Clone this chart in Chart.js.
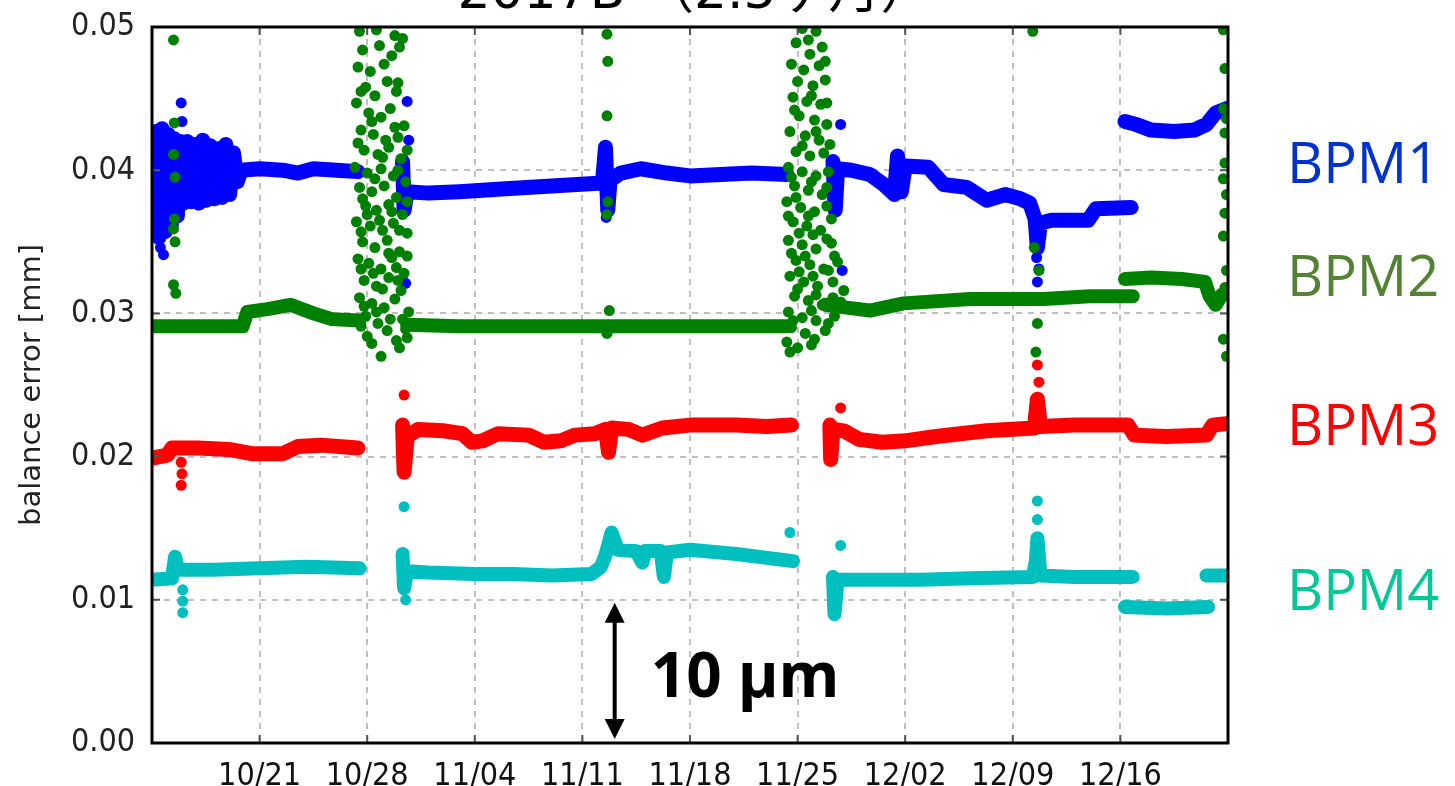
<!DOCTYPE html>
<html>
<head>
<meta charset="utf-8">
<script src="https://cdn.jsdelivr.net/npm/chart.js@4.4.1/dist/chart.umd.min.js"></script>
<style>
  html, body { margin: 0; padding: 0; background: #fff; }
  #wrap { width: 1455px; height: 786px; }
</style>
</head>
<body>
<div id="wrap"><canvas id="c" width="1455" height="786"></canvas></div>
<script>
// x = days since 10/14, y = balance error in mm; null breaks a band
const tickDays = [7, 14, 21, 28, 35, 42, 49, 56, 63];
const tickLabels = ['10/21', '10/28', '11/04', '11/11', '11/18', '11/25', '12/02', '12/09', '12/16'];

const bpm1Band = [
  [0.05, 0.0362], [0.25, 0.0427], [0.45, 0.0353], [0.65, 0.0429], [0.85, 0.0357], [1.05, 0.0425],
  [1.25, 0.0361], [1.45, 0.0422], [1.65, 0.0368], [1.85, 0.0420], [2.05, 0.0377], [2.3, 0.0420],
  [2.55, 0.0378], [2.8, 0.0418], [3.05, 0.0377], [3.3, 0.0421], [3.55, 0.0379], [3.8, 0.0417],
  [4.05, 0.0380], [4.3, 0.0415], [4.55, 0.0381], [4.8, 0.0418], [5.05, 0.0383], [5.3, 0.0412],
  [5.55, 0.0392], [5.8, 0.0400], [7, 0.0401], [8.5, 0.0400], [9.5, 0.0398], [10.5, 0.0401],
  [12, 0.0400], [13.4, 0.0399],
  null,
  [16.3, 0.0406], [16.4, 0.0372], [16.6, 0.0385], [18, 0.0384], [20, 0.0385], [23, 0.0387],
  [26, 0.0389], [29.3, 0.0391], [29.5, 0.0416], [29.65, 0.0372], [29.8, 0.0393], [30.5, 0.0398],
  [31.8, 0.0401], [33.5, 0.0398], [35, 0.0396], [37, 0.0397], [39, 0.0398], [41.3, 0.0397],
  null,
  [44.3, 0.0406], [44.45, 0.0372], [44.6, 0.0401], [45.5, 0.0400], [46.7, 0.0397], [47.6, 0.0390],
  [48.3, 0.0383], [48.5, 0.0410], [48.75, 0.0385], [49, 0.0403], [50.5, 0.0402], [51.5, 0.0390],
  [53, 0.0388], [54.3, 0.0379], [55.5, 0.0383], [56.5, 0.0380], [57.1, 0.0377], [57.45, 0.0366],
  [57.6, 0.0346], [57.8, 0.0363], [58.5, 0.0365], [60.9, 0.0365], [61.4, 0.0373], [63.7, 0.0374],
  null,
  [63.3, 0.0434], [64, 0.0432], [65, 0.0428], [66.5, 0.0427], [67.8, 0.0428], [68.6, 0.0432],
  [69.2, 0.0440], [69.9, 0.0443]
];
const bpm1Dots = [
  [1.9, 0.0447], [1.95, 0.0434], [0.75, 0.0341], [0.55, 0.0346], [16.6, 0.0448], [16.7, 0.0421],
  [16.5, 0.0321], [29.55, 0.0367], [44.8, 0.0432], [44.9, 0.0330], [57.7, 0.0331], [57.6, 0.0322],
  [57.55, 0.0339]
];

const bpm2Band = [
  [0, 0.0291], [5.9, 0.0291], [6.2, 0.0301], [7.5, 0.0303], [9, 0.0306], [10.5, 0.0300],
  [11.7, 0.0296], [13.5, 0.0295],
  null,
  [16.6, 0.0292], [20, 0.0291], [25, 0.0291], [29, 0.0291], [33, 0.0291], [37, 0.0291], [41.3, 0.0291],
  null,
  [43.8, 0.0306], [45.2, 0.0304], [46.7, 0.0302], [48.9, 0.0307], [53.2, 0.0310], [58, 0.0310],
  [61, 0.0312], [63.8, 0.0312],
  null,
  [63.3, 0.0324], [65, 0.0325], [67, 0.0324], [68.5, 0.0322], [68.8, 0.0312], [69.2, 0.0306], [69.6, 0.0313]
];
const bpm2Dots = [
  [1.4, 0.0491], [1.45, 0.0433], [1.4, 0.0411], [1.5, 0.0395], [1.45, 0.0366], [1.4, 0.0359],
  [1.5, 0.0350], [1.4, 0.0320], [1.55, 0.0314],
  [29.6, 0.0495], [29.65, 0.0476], [29.6, 0.0438], [29.65, 0.0378], [29.6, 0.0369], [29.75, 0.0302], [29.6, 0.0286],
  [57.3, 0.0497], [57.4, 0.0346], [57.7, 0.0330], [57.6, 0.0293], [57.5, 0.0273],
  [69.7, 0.0498], [69.8, 0.0471], [69.7, 0.0443], [69.9, 0.0436], [69.8, 0.0426], [69.8, 0.0405],
  [69.7, 0.0394], [69.9, 0.0383], [69.8, 0.0370], [69.7, 0.0354], [69.9, 0.0330], [69.8, 0.0318],
  [69.7, 0.0282], [69.9, 0.0270]
];
// scattered BPM2 readings around 10/28-10/31
const bpm2Burst1 = [
  [13.5, 0.0497], [14.6, 0.0498], [15.8, 0.0494], [16.3, 0.0492], [13.7, 0.0484], [14.8, 0.0487],
  [15.6, 0.0480], [16.1, 0.0486], [13.4, 0.0472], [14.2, 0.0469], [15.1, 0.0474], [16.0, 0.0461],
  [13.9, 0.0458], [14.5, 0.0452], [15.9, 0.0455], [13.3, 0.0447], [14.1, 0.0440], [14.9, 0.0437],
  [15.5, 0.0443], [16.4, 0.0431], [13.6, 0.0428], [14.4, 0.0425], [15.2, 0.0421], [16.0, 0.0423],
  [13.8, 0.0414], [14.7, 0.0411], [15.4, 0.0416], [16.2, 0.0408], [13.2, 0.0402], [14.0, 0.0398],
  [14.9, 0.0401], [15.7, 0.0396], [16.5, 0.0392], [13.5, 0.0388], [14.3, 0.0385], [15.1, 0.0389],
  [15.9, 0.0381], [13.9, 0.0375], [14.6, 0.0372], [15.4, 0.0376], [16.3, 0.0369], [13.3, 0.0364],
  [14.2, 0.0361], [15.0, 0.0358], [15.7, 0.0363], [16.6, 0.0356], [13.7, 0.0350], [14.5, 0.0346],
  [15.3, 0.0351], [16.1, 0.0343], [13.4, 0.0338], [14.1, 0.0335], [14.9, 0.0331], [15.6, 0.0339],
  [16.4, 0.0328], [13.8, 0.0323], [14.6, 0.0319], [15.4, 0.0325], [16.2, 0.0316], [13.5, 0.0311],
  [14.3, 0.0307], [15.1, 0.0304], [15.8, 0.0310], [16.7, 0.0301], [13.9, 0.0298], [14.7, 0.0293],
  [15.5, 0.0296], [16.5, 0.0289], [14.0, 0.0284], [15.9, 0.0281], [14.9, 0.0270], [16.1, 0.0276],
  [13.6, 0.0455], [15.3, 0.0462], [14.3, 0.0434], [15.8, 0.0430], [13.4, 0.0419], [15.0, 0.0409],
  [16.6, 0.0414], [14.5, 0.0394], [16.0, 0.0400], [13.7, 0.0380], [15.6, 0.0371], [16.6, 0.0378],
  [14.0, 0.0369], [14.8, 0.0365], [16.1, 0.0358], [13.6, 0.0357], [15.4, 0.0342], [16.6, 0.0340],
  [14.4, 0.0328], [15.9, 0.0332], [13.6, 0.0331], [15.0, 0.0317], [16.0, 0.0323], [13.8, 0.0305],
  [14.6, 0.0301], [15.3, 0.0288], [16.3, 0.0296], [13.6, 0.0291], [14.3, 0.0279], [16.6, 0.0283]
];
// scattered BPM2 readings around 11/25-11/28
const bpm2Burst2 = [
  [42.3, 0.0499], [43.2, 0.0497], [41.9, 0.0489], [43.6, 0.0486], [42.8, 0.0481], [41.6, 0.0474],
  [42.4, 0.0470], [43.4, 0.0473], [42.0, 0.0462], [43.0, 0.0459], [43.8, 0.0463], [41.7, 0.0451],
  [42.6, 0.0448], [43.5, 0.0446], [42.1, 0.0438], [43.1, 0.0435], [43.9, 0.0432], [41.5, 0.0427],
  [42.5, 0.0424], [43.4, 0.0421], [41.9, 0.0413], [42.8, 0.0410], [43.7, 0.0412], [41.4, 0.0402],
  [42.3, 0.0399], [43.2, 0.0396], [44.0, 0.0399], [41.8, 0.0389], [42.7, 0.0386], [43.6, 0.0383],
  [41.3, 0.0378], [42.2, 0.0374], [43.1, 0.0371], [43.9, 0.0375], [41.7, 0.0364], [42.6, 0.0361],
  [43.5, 0.0358], [41.4, 0.0351], [42.3, 0.0348], [43.2, 0.0345], [44.2, 0.0349], [41.9, 0.0337],
  [42.8, 0.0334], [43.7, 0.0331], [44.6, 0.0336], [41.5, 0.0326], [42.4, 0.0322], [43.3, 0.0319],
  [44.3, 0.0322], [45.0, 0.0316], [41.8, 0.0312], [42.7, 0.0309], [43.6, 0.0306], [44.8, 0.0308],
  [41.4, 0.0301], [42.3, 0.0297], [43.2, 0.0295], [44.4, 0.0298], [41.6, 0.0290], [42.5, 0.0286],
  [43.8, 0.0288], [41.3, 0.0280], [42.0, 0.0276], [43.1, 0.0282], [41.5, 0.0273], [42.9, 0.0278],
  [42.7, 0.0491], [43.8, 0.0476], [41.8, 0.0442], [42.9, 0.0452], [43.9, 0.0447], [42.3, 0.0417],
  [43.2, 0.0427], [44.1, 0.0418], [41.6, 0.0395], [42.9, 0.0392], [43.9, 0.0388], [41.9, 0.0381],
  [42.7, 0.0368], [44.2, 0.0366], [41.4, 0.0368], [42.1, 0.0356], [43.0, 0.0355], [43.9, 0.0352],
  [41.6, 0.0342], [42.5, 0.0340], [44.4, 0.0340], [42.1, 0.0329], [43.0, 0.0326], [44.0, 0.0330],
  [42.0, 0.0317], [43.2, 0.0313], [44.3, 0.0311], [41.7, 0.0295], [42.9, 0.0302], [44.0, 0.0293]
];

const bpm3Band = [
  [0, 0.0199], [1, 0.0201], [1.3, 0.0206], [3, 0.0206], [5, 0.0205], [6.5, 0.0202], [8.5, 0.0202],
  [9.5, 0.0207], [11, 0.0208], [13.4, 0.0206],
  null,
  [16.3, 0.0222], [16.4, 0.0189], [16.6, 0.0214], [17.3, 0.0219], [19, 0.0218], [20.2, 0.0216],
  [20.8, 0.0210], [21.5, 0.0211], [22.5, 0.0216], [24.5, 0.0215], [25.5, 0.0210], [26.6, 0.0211],
  [27.5, 0.0215], [28.8, 0.0216], [29.5, 0.0219], [29.7, 0.0203], [29.9, 0.0220], [31, 0.0219],
  [31.9, 0.0215], [33.2, 0.0220], [35, 0.0222], [38, 0.0222], [40, 0.0221], [41.6, 0.0222],
  null,
  [44.1, 0.0222], [44.15, 0.0198], [44.3, 0.0219], [45, 0.0218], [46, 0.0212], [47.5, 0.0210],
  [49, 0.0211], [51, 0.0214], [54.3, 0.0218], [57.4, 0.0220], [57.6, 0.0240], [57.8, 0.0221],
  [60, 0.0222], [63.5, 0.0222], [63.9, 0.0215], [66, 0.0214], [68.6, 0.0215], [69, 0.0222], [69.9, 0.0223]
];
const bpm3Dots = [
  [1.9, 0.0196], [1.95, 0.0188], [1.9, 0.0180], [16.4, 0.0243], [44.8, 0.0234], [57.6, 0.0264], [57.7, 0.0252]
];

const bpm4Band = [
  [0, 0.0114], [1.3, 0.0115], [1.5, 0.0130], [1.7, 0.0121], [4, 0.0121], [7, 0.0122], [10, 0.0123],
  [13.5, 0.0122],
  null,
  [16.3, 0.0132], [16.4, 0.0108], [16.6, 0.0120], [18, 0.0119], [21, 0.0118], [23.5, 0.0118],
  [26, 0.0117], [28.6, 0.0118], [29.2, 0.0123], [29.5, 0.0131], [29.9, 0.0147], [30.3, 0.0135],
  [31.5, 0.0134], [31.9, 0.0126], [32.1, 0.0134], [33.1, 0.0134], [33.3, 0.0116], [33.5, 0.0133],
  [35, 0.0135], [38, 0.0132], [41.7, 0.0127],
  null,
  [44.3, 0.0116], [44.4, 0.0090], [44.6, 0.0114], [46.7, 0.0114], [50, 0.0114], [53.2, 0.0115],
  [57.3, 0.0116], [57.5, 0.0127], [57.6, 0.0143], [57.8, 0.0117], [60, 0.0116], [63.8, 0.0116],
  null,
  [63.3, 0.0095], [66, 0.0094], [68.7, 0.0095],
  null,
  [68.6, 0.0117], [69.9, 0.0117]
];
const bpm4Dots = [
  [2, 0.0107], [2, 0.0099], [2, 0.0091], [16.4, 0.0165], [16.5, 0.0100], [41.5, 0.0147],
  [44.8, 0.0138], [57.6, 0.0169], [57.6, 0.0156]
];

const bpmNames = ['BPM1', 'BPM2', 'BPM3', 'BPM4'];
const bpmLabelColors = ['#0033cc', '#548235', '#ff0000', '#00c896'];
const seriesColors = ['#0000ff', '#008000', '#ff0000', '#00bfbf'];

function toPoints(rows) {
  const out = [];
  let lastX = 0;
  rows.forEach(r => {
    if (r === null) { out.push({ x: lastX, y: null }); return; }
    lastX = r[0];
    out.push({ x: r[0], y: r[1] });
  });
  return out;
}

function band(label, rows, color, width, order) {
  return {
    label, data: toPoints(rows), showLine: true, spanGaps: false, tension: 0,
    borderColor: color, backgroundColor: color, borderWidth: width,
    borderJoinStyle: 'round', borderCapStyle: 'round', pointRadius: 0, order, clip: 0
  };
}

function dots(label, rows, color, order) {
  return {
    label, data: toPoints(rows), showLine: false, pointRadius: 5.5, pointBorderWidth: 0,
    backgroundColor: color, borderColor: color, order, clip: 0
  };
}

// frame, inward ticks, scale arrow, series names and title
const decor = {
  id: 'decor',
  afterDatasetsDraw(chart) {
    const { ctx, chartArea: a, scales: { x, y } } = chart;
    ctx.save();
    ctx.strokeStyle = '#555';
    ctx.lineWidth = 2;
    ctx.beginPath();
    tickDays.forEach(d => {
      const px = x.getPixelForValue(d);
      ctx.moveTo(px, a.top); ctx.lineTo(px, a.top + 8);
      ctx.moveTo(px, a.bottom); ctx.lineTo(px, a.bottom - 8);
    });
    [0.01, 0.02, 0.03, 0.04].forEach(v => {
      const py = y.getPixelForValue(v);
      ctx.moveTo(a.left, py); ctx.lineTo(a.left + 8, py);
      ctx.moveTo(a.right, py); ctx.lineTo(a.right - 8, py);
    });
    ctx.stroke();

    ctx.strokeStyle = '#000';
    ctx.lineWidth = 3;
    ctx.strokeRect(a.left, a.top, a.right - a.left, a.bottom - a.top);

    // 10 um scale bar
    const ax = x.getPixelForValue(30.1);
    const top = y.getPixelForValue(0.01) + 3;
    const bot = y.getPixelForValue(0) - 4;
    ctx.fillStyle = '#000';
    ctx.strokeStyle = '#000';
    ctx.lineWidth = 4;
    ctx.beginPath();
    ctx.moveTo(ax, top + 16); ctx.lineTo(ax, bot - 16);
    ctx.stroke();
    ctx.beginPath();
    ctx.moveTo(ax, top); ctx.lineTo(ax - 10, top + 20); ctx.lineTo(ax + 10, top + 20); ctx.closePath();
    ctx.moveTo(ax, bot); ctx.lineTo(ax - 10, bot - 20); ctx.lineTo(ax + 10, bot - 20); ctx.closePath();
    ctx.fill();
    ctx.font = 'bold 62px "Open Sans", "DejaVu Sans", sans-serif';
    ctx.textAlign = 'left';
    ctx.textBaseline = 'alphabetic';
    ctx.fillText('10 \u03bcm', ax + 36, 697);
    ctx.restore();
  },
  afterDraw(chart) {
    const { ctx, chartArea: a } = chart;
    ctx.save();
    ctx.font = '56px "Open Sans", sans-serif';
    ctx.textAlign = 'left';
    ctx.textBaseline = 'alphabetic';
    const baseY = [183, 296, 445, 610];
    bpmNames.forEach((n, i) => {
      ctx.fillStyle = bpmLabelColors[i];
      ctx.fillText(n, 1287, baseY[i]);
    });
    ctx.fillStyle = '#000';
    ctx.textAlign = 'center';
    ctx.font = '52px "DejaVu Sans", "Noto Sans CJK JP", sans-serif';
    ctx.fillText('2017B \uff082.5\u30f6\u6708\uff09', (a.left + a.right) / 2 + 5, 8);
    ctx.restore();
  }
};

const datasets = [
  band('BPM2', bpm2Band, seriesColors[1], 14, 0),
  dots('BPM2', bpm2Dots, seriesColors[1], 0),
  dots('BPM2', bpm2Burst1, seriesColors[1], 0),
  dots('BPM2', bpm2Burst2, seriesColors[1], 0),
  band('BPM1', bpm1Band, seriesColors[0], 15, 1),
  dots('BPM1', bpm1Dots, seriesColors[0], 1),
  band('BPM3', bpm3Band, seriesColors[2], 15, 2),
  dots('BPM3', bpm3Dots, seriesColors[2], 2),
  band('BPM4', bpm4Band, seriesColors[3], 14, 3),
  dots('BPM4', bpm4Dots, seriesColors[3], 3)
];

new Chart(document.getElementById('c'), {
  type: 'scatter',
  data: { datasets },
  options: {
    responsive: false,
    devicePixelRatio: 1,
    animation: false,
    layout: { padding: { left: 0, right: 227, top: 27, bottom: 0 } },
    plugins: { legend: { display: false }, tooltip: { enabled: false } },
    scales: {
      x: {
        type: 'linear', min: 0, max: 70,
        afterFit: s => { s.height = 43; s.paddingLeft = 0; s.paddingRight = 0; },
        afterBuildTicks: s => { s.ticks = tickDays.map(v => ({ value: v })); },
        grid: { color: '#bfbfbf', lineWidth: 2, drawTicks: false },
        border: { display: false, dash: [6, 6] },
        ticks: {
          autoSkip: false, maxRotation: 0, padding: 14, color: '#111',
          font: { family: '"DejaVu Sans Condensed", "DejaVu Sans"', size: 32 },
          callback: v => tickLabels[tickDays.indexOf(v)] || ''
        }
      },
      y: {
        min: 0, max: 0.05,
        afterFit: s => { s.width = 152; s.paddingTop = 0; s.paddingBottom = 0; },
        afterBuildTicks: s => { s.ticks = [0, 0.01, 0.02, 0.03, 0.04, 0.05].map(v => ({ value: v })); },
        grid: { color: '#bfbfbf', lineWidth: 2, drawTicks: false },
        border: { display: false, dash: [6, 6] },
        ticks: {
          padding: 17, color: '#222',
          font: { family: '"DejaVu Sans Condensed", "DejaVu Sans"', size: 32 },
          callback: v => v.toFixed(2)
        },
        title: {
          display: true, text: 'balance error [mm]', color: '#222',
          font: { family: '"DejaVu Sans"', size: 29 }, padding: { top: 15, bottom: 0 }
        }
      }
    }
  },
  plugins: [decor]
});
</script>
</body>
</html>
